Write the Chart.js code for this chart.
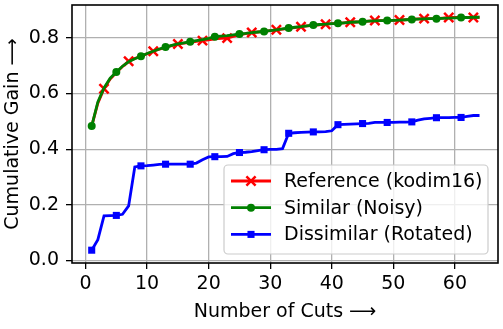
<!DOCTYPE html>
<html>
<head>
<meta charset="UTF-8">
<title>Cumulative gain vs cuts</title>
<script src="https://cdn.jsdelivr.net/npm/chart.js"></script>
<style>
  html, body { margin: 0; padding: 0; background: #fff; }
  #wrap { width: 503px; height: 329px; }
</style>
</head>
<body>
<div id="wrap"><canvas id="gain" width="503" height="329"></canvas></div>
<script>
// number of cuts 1..64
const cuts = [1,2,3,4,5,6,7,8,9,10,11,12,13,14,15,16,17,18,19,20,21,22,23,24,25,26,27,28,29,30,31,32,
  33,34,35,36,37,38,39,40,41,42,43,44,45,46,47,48,49,50,51,52,53,54,55,56,57,58,59,60,61,62,63,64];

const reference = [0.483,0.565,0.617,0.652,0.675,0.697,0.716,0.726,0.734,0.743,0.752,0.759,0.766,0.772,0.778,0.781,
  0.784,0.787,0.790,0.793,0.796,0.798,0.799,0.805,0.811,0.815,0.819,0.821,0.823,0.826,0.829,0.831,
  0.834,0.837,0.840,0.843,0.845,0.847,0.849,0.851,0.852,0.854,0.856,0.857,0.858,0.860,0.862,0.862,
  0.862,0.863,0.864,0.865,0.866,0.868,0.869,0.869,0.869,0.871,0.873,0.873,0.873,0.873,0.873,0.874];

const similar = [0.483,0.570,0.620,0.655,0.677,0.698,0.714,0.725,0.734,0.744,0.752,0.760,0.767,0.773,0.778,0.782,
  0.786,0.790,0.794,0.798,0.804,0.806,0.808,0.811,0.814,0.816,0.819,0.821,0.823,0.826,0.829,0.832,
  0.835,0.838,0.840,0.843,0.846,0.848,0.849,0.851,0.852,0.854,0.856,0.857,0.858,0.860,0.861,0.862,
  0.862,0.863,0.864,0.865,0.866,0.867,0.868,0.869,0.869,0.870,0.871,0.872,0.873,0.873,0.874,0.874];

const dissimilar = [0.037,0.075,0.160,0.161,0.162,0.166,0.196,0.336,0.340,0.341,0.343,0.345,0.346,0.346,0.346,0.346,
  0.346,0.350,0.362,0.372,0.373,0.373,0.374,0.384,0.388,0.389,0.391,0.395,0.398,0.399,0.399,0.402,
  0.457,0.459,0.460,0.461,0.462,0.462,0.463,0.466,0.488,0.489,0.490,0.491,0.492,0.493,0.496,0.496,
  0.496,0.496,0.497,0.497,0.498,0.504,0.509,0.511,0.513,0.513,0.513,0.514,0.514,0.518,0.521,0.521];

const xTicks = [0, 10, 20, 30, 40, 50, 60];
const yTicks = [0.0, 0.2, 0.4, 0.6, 0.8];

const FONT = 'DejaVu Sans';
Chart.defaults.font.family = FONT;
Chart.defaults.font.size = 19;
Chart.defaults.color = '#000';

function pts(arr) { return arr.map((v, i) => ({ x: cuts[i], y: v })); }
// markers only on every 4th point (like markevery)
function every(offset, r) { return ctx => (ctx.dataIndex % 4 === offset ? r : 0); }

const datasets = [
  { label: 'Reference (kodim16)', data: pts(reference), borderColor: '#ff0000', backgroundColor: '#ff0000',
    pointStyle: 'crossRot', pointRadius: every(2, 6.5), pointBorderWidth: 2.5, order: 2, marker: 'crossRot', mr: 6.5 },
  { label: 'Similar (Noisy)', data: pts(similar), borderColor: '#008000', backgroundColor: '#008000',
    pointStyle: 'circle', pointRadius: every(0, 4), pointBorderWidth: 0, order: 1, marker: 'circle', mr: 4 },
  { label: 'Dissimilar (Rotated)', data: pts(dissimilar), borderColor: '#0000ff', backgroundColor: '#0000ff',
    pointStyle: 'rect', pointRadius: every(0, 5), pointBorderWidth: 0, order: 0, marker: 'rect', mr: 5 }
];
datasets.forEach(d => { d.borderWidth = 2.8; d.tension = 0; d.pointHoverRadius = 0; });

const framePlugin = {
  id: 'frame',
  afterDatasetsDraw(chart) {
    const { ctx, chartArea: a } = chart;
    ctx.save();
    ctx.strokeStyle = '#000';
    ctx.lineWidth = 1.6;
    ctx.strokeRect(a.left, a.top, a.right - a.left, a.bottom - a.top);
    ctx.restore();
  }
};

const legendPlugin = {
  id: 'insideLegend',
  afterDraw(chart) {
    const { ctx, chartArea: a } = chart;
    const w = 264, h = 89;
    const x0 = a.right - 10 - w, y0 = a.bottom - 9 - h;
    ctx.save();
    ctx.beginPath();
    ctx.roundRect(x0, y0, w, h, 4);
    ctx.fillStyle = 'rgba(255,255,255,0.8)';
    ctx.fill();
    ctx.strokeStyle = '#cccccc';
    ctx.lineWidth = 1.2;
    ctx.stroke();
    chart.data.datasets.forEach((d, i) => {
      const cy = y0 + 16 + i * 26.7;
      ctx.strokeStyle = d.borderColor;
      ctx.fillStyle = d.backgroundColor;
      ctx.lineWidth = d.borderWidth;
      ctx.beginPath();
      ctx.moveTo(x0 + 7, cy);
      ctx.lineTo(x0 + 47, cy);
      ctx.stroke();
      ctx.lineWidth = d.marker === 'crossRot' ? 2.5 : 0.01;
      Chart.helpers.drawPoint(ctx, {
        pointStyle: d.marker, radius: d.mr, borderWidth: d.marker === 'crossRot' ? 2.5 : 0
      }, x0 + 27, cy);
      ctx.fillStyle = '#000';
      ctx.font = '19px "' + FONT + '"';
      ctx.textBaseline = 'middle';
      ctx.fillText(d.label, x0 + 60, cy + 1);
    });
    ctx.restore();
  }
};

new Chart(document.getElementById('gain'), {
  type: 'line',
  data: { datasets },
  options: {
    responsive: false,
    animation: false,
    layout: { padding: { top: 4, right: 3, left: 0, bottom: 0 } },
    plugins: { legend: { display: false }, tooltip: { enabled: false } },
    scales: {
      x: {
        type: 'linear', min: -2.2, max: 67,
        afterBuildTicks: s => { s.ticks = xTicks.map(v => ({ value: v })); },
        afterFit: s => { s.height = 66; s.paddingLeft = 0; s.paddingRight = 0; },
        grid: { color: '#b0b0b0', lineWidth: 1.3, tickColor: '#000', tickLength: 6 },
        border: { display: false },
        ticks: { padding: 4, callback: v => String(v) },
        title: { display: true, text: 'Number of Cuts ⟶', padding: { top: 0, bottom: 6 } }
      },
      y: {
        type: 'linear', min: -0.009, max: 0.918,
        afterBuildTicks: s => { s.ticks = yTicks.map(v => ({ value: v })); },
        afterFit: s => { s.width = 72; s.paddingTop = 0; s.paddingBottom = 0; },
        grid: { color: '#b0b0b0', lineWidth: 1.3, tickColor: '#000', tickLength: 6 },
        border: { display: false },
        ticks: { padding: 7, callback: v => v.toFixed(1) },
        title: { display: true, text: 'Cumulative Gain ⟶', padding: { top: 2, bottom: 0 } }
      }
    }
  },
  plugins: [framePlugin, legendPlugin]
});
</script>
</body>
</html>
